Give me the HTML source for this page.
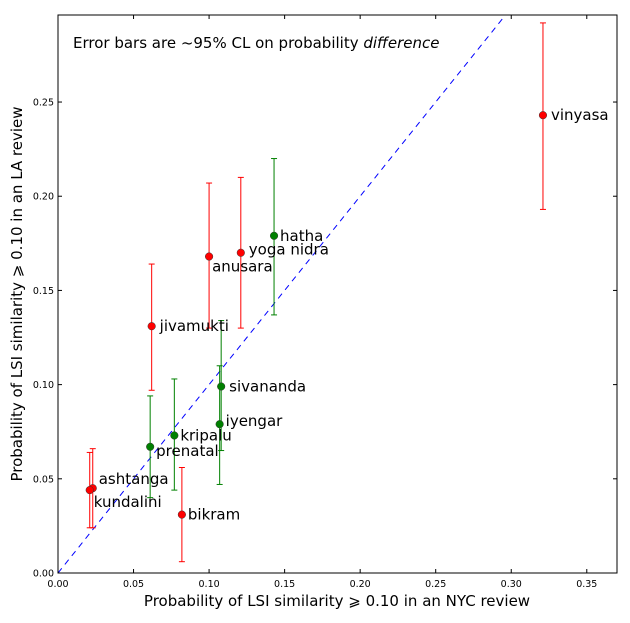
<!DOCTYPE html>
<html><head><meta charset="utf-8"><style>
body{margin:0;background:#fff;}
svg text{font-family:"DejaVu Sans","Liberation Sans",sans-serif;fill:#000;}
</style></head><body>
<svg id="chart" width="630" height="618" xmlns="http://www.w3.org/2000/svg">
<rect width="630" height="618" fill="#fff"/>
<g id="plot"></g>
</svg>
<script>
const names=["vinyasa","hatha","yoga nidra","anusara","jivamukti","sivananda","iyengar","kripalu","prenatal","ashtanga","kundalini","bikram"];
const xVals=[0.321,0.143,0.121,0.100,0.062,0.108,0.107,0.077,0.061,0.023,0.021,0.082];
const yVals=[0.243,0.179,0.170,0.168,0.131,0.099,0.079,0.073,0.067,0.045,0.044,0.031];
const errLo=[0.193,0.137,0.130,0.130,0.097,0.065,0.047,0.044,0.040,0.024,0.024,0.006];
const errHi=[0.292,0.220,0.210,0.207,0.164,0.134,0.110,0.103,0.094,0.066,0.064,0.056];
const colors=["red","green","red","red","red","green","green","green","green","red","red","red"];
const labelDx=[8,6,8,3,8,8,6,6,6,6,4,6];
const labelDy=[5,5,2,15,5,5,2,5,9,-4,17,5];
const xTicks=[0,0.05,0.10,0.15,0.20,0.25,0.30,0.35];
const yTicks=[0,0.05,0.10,0.15,0.20,0.25];
const L=58,T=15,R=617,B=573,XMAX=0.37,YMAX=0.2962;
const sx=v=>L+v/XMAX*(R-L);
const sy=v=>B-v/YMAX*(B-T);
const NS="http://www.w3.org/2000/svg";
const g=document.getElementById('plot');
function mk(tag,attrs,text){const e=document.createElementNS(NS,tag);for(const k in attrs)e.setAttribute(k,attrs[k]);if(text!==undefined)e.textContent=text;g.appendChild(e);return e;}
let d=mk('line',{x1:sx(0),y1:sy(0),x2:sx(YMAX),y2:sy(YMAX),stroke:'blue','stroke-width':1,'stroke-dasharray':'6,5'});


let f=mk('rect',{x:L,y:T,width:R-L,height:B-T,fill:'none',stroke:'#000','stroke-width':1});


xTicks.forEach(t=>{const x=sx(t);
mk('line',{x1:x,y1:B,x2:x,y2:B-4,stroke:'#000'});mk('line',{x1:x,y1:T,x2:x,y2:T+4,stroke:'#000'});
const tl=mk('text',{x:x,y:B+14,'font-size':9.5,'text-anchor':'middle'},t.toFixed(2));

});
yTicks.forEach(t=>{const y=sy(t);
mk('line',{x1:L,y1:y,x2:L+4,y2:y,stroke:'#000'});mk('line',{x1:R,y1:y,x2:R-4,y2:y,stroke:'#000'});
const tl=mk('text',{x:L-4,y:y+3.5,'font-size':9.5,'text-anchor':'end'},t.toFixed(2));

});
names.forEach((n,i)=>{const x=sx(xVals[i]),c=colors[i];
const e=mk('line',{x1:x,y1:sy(errLo[i]),x2:x,y2:sy(errHi[i]),stroke:c,'stroke-width':1});


mk('line',{x1:x-3,y1:sy(errLo[i]),x2:x+3,y2:sy(errLo[i]),stroke:c});
mk('line',{x1:x-3,y1:sy(errHi[i]),x2:x+3,y2:sy(errHi[i]),stroke:c});});
names.forEach((n,i)=>{const x=sx(xVals[i]),y=sy(yVals[i]);
const p=mk('circle',{cx:x,cy:y,r:3.8,fill:colors[i],stroke:'#333','stroke-width':0.5});


const t=mk('text',{x:x+labelDx[i],y:y+labelDy[i],'font-size':15},n);

});
</script>
<svg width="630" height="618" style="position:absolute;left:0;top:0">
<text x="73" y="48" font-size="15">Error bars are ~95% CL on probability <tspan font-style="italic">difference</tspan></text>
<text x="337" y="606" font-size="15" text-anchor="middle">Probability of LSI similarity ⩾ 0.10 in an NYC review</text>
<text transform="translate(22,294) rotate(-90)" font-size="15" text-anchor="middle">Probability of LSI similarity ⩾ 0.10 in an LA review</text>
</svg>
</body></html>
